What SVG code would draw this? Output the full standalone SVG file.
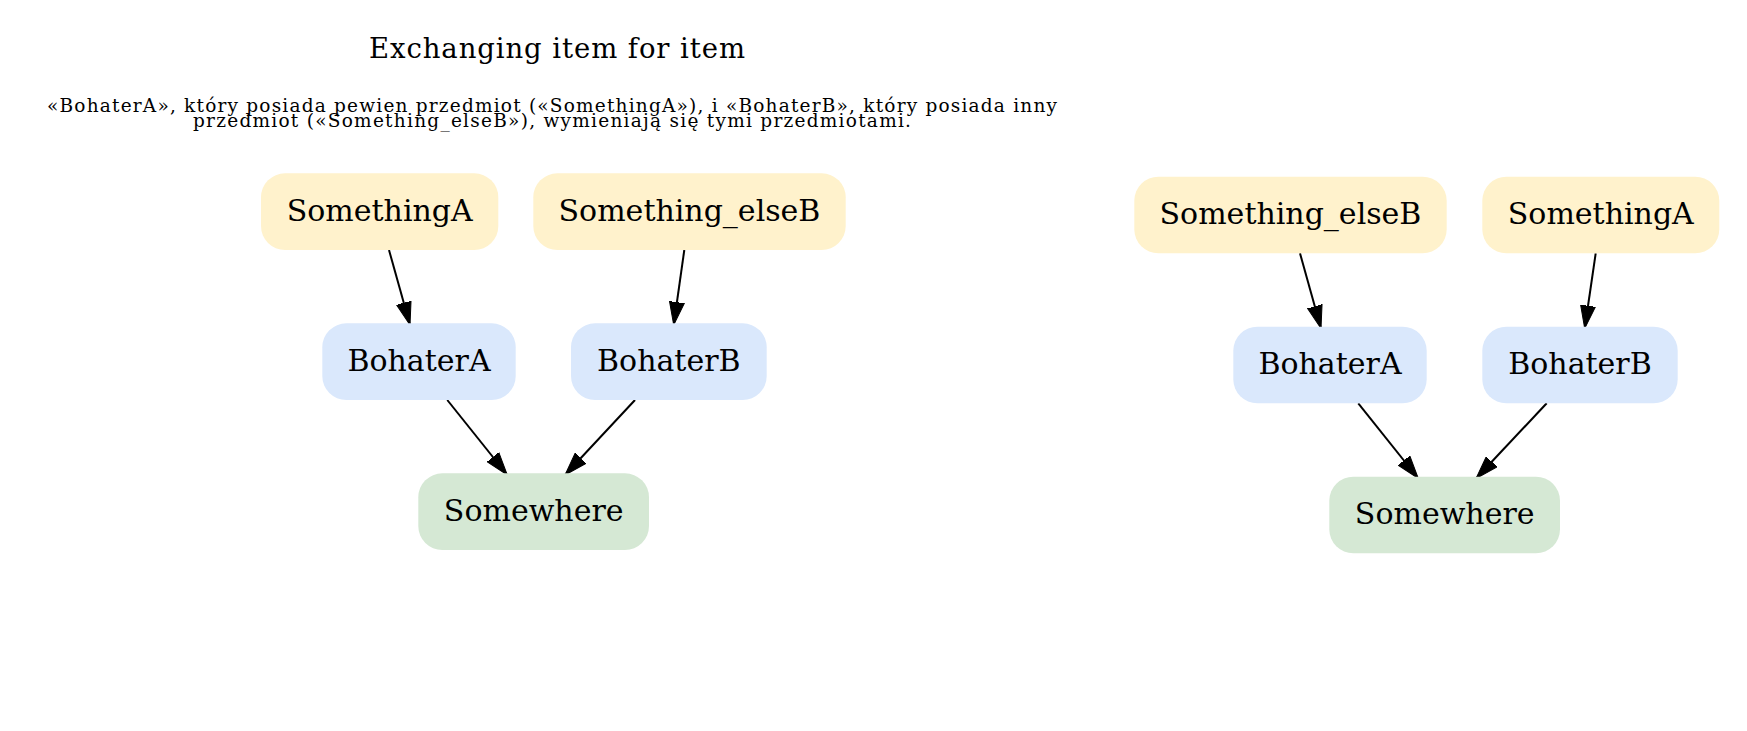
<svg xmlns="http://www.w3.org/2000/svg" width="1747" height="731" viewBox="0 0 1747 731">
<style>
text { font-family: "DejaVu Serif", "Liberation Serif", serif; fill: #000; }
.lbl { font-size: 30px; text-anchor: middle; }
.title { font-size: 27.5px; text-anchor: middle; }
.sub { font-size: 18.5px; text-anchor: middle; }
.item rect { fill: #fff2cc; }
.hero rect { fill: #dae8fc; }
.place rect { fill: #d5e8d4; }
.edge { stroke: #000; stroke-width: 2; fill: none; marker-end: url(#arr); }
</style>
<defs>
<marker id="arr" markerUnits="userSpaceOnUse" markerWidth="24" markerHeight="16" refX="23" refY="8" orient="auto" viewBox="0 0 24 16">
<path d="M0,0.5 L23,8 L0,15.5 z" fill="#000" stroke="#000" stroke-width="1"/>
</marker>
</defs>
<rect width="1747" height="731" fill="#fff"/>
<g id="title">
<text class="title" x="557" y="57.5" textLength="376" lengthAdjust="spacing">Exchanging item for item</text>
<text class="sub" x="552" y="112" textLength="1010" lengthAdjust="spacing">«BohaterA», który posiada pewien przedmiot («SomethingA»), i «BohaterB», który posiada inny</text>
<text class="sub" x="552" y="127" textLength="718" lengthAdjust="spacing">przedmiot («Something_elseB»), wymieniają się tymi przedmiotami.</text>
</g>
<g id="edges">
<line class="edge" x1="389" y1="250" x2="410" y2="325"/>
<line class="edge" x1="684.3" y1="250" x2="673.7" y2="325"/>
<line class="edge" x1="447.3" y1="400" x2="507.3" y2="475"/>
<line class="edge" x1="635" y1="400" x2="565" y2="475"/>
<line class="edge" x1="1300" y1="253.3" x2="1321" y2="328.5"/>
<line class="edge" x1="1595.7" y1="253.3" x2="1584.7" y2="328.5"/>
<line class="edge" x1="1358.3" y1="403.3" x2="1418.3" y2="478.5"/>
<line class="edge" x1="1546.7" y1="403.3" x2="1476" y2="478.5"/>
</g>
<g id="L_SomethingA" class="item"><rect x="261" y="173.3" width="237.3" height="76.7" rx="24"/><text class="lbl" x="379.7" y="220.5">SomethingA</text></g>
<g id="L_Something_elseB" class="item"><rect x="533.3" y="173.3" width="312.4" height="76.7" rx="24"/><text class="lbl" x="689.5" y="220.5">Something_elseB</text></g>
<g id="L_BohaterA" class="hero"><rect x="322.3" y="323.3" width="193.4" height="76.7" rx="24"/><text class="lbl" x="419" y="370.5">BohaterA</text></g>
<g id="L_BohaterB" class="hero"><rect x="571" y="323.3" width="195.7" height="76.7" rx="24"/><text class="lbl" x="668.8" y="370.5">BohaterB</text></g>
<g id="L_Somewhere" class="place"><rect x="418.3" y="473.3" width="230.7" height="76.7" rx="24"/><text class="lbl" x="533.7" y="520.5">Somewhere</text></g>
<g id="R_Something_elseB" class="item"><rect x="1134.3" y="176.7" width="312.4" height="76.6" rx="24"/><text class="lbl" x="1290.5" y="223.8">Something_elseB</text></g>
<g id="R_SomethingA" class="item"><rect x="1482.3" y="176.7" width="237" height="76.6" rx="24"/><text class="lbl" x="1600.8" y="223.8">SomethingA</text></g>
<g id="R_BohaterA" class="hero"><rect x="1233.3" y="326.7" width="193.4" height="76.6" rx="24"/><text class="lbl" x="1330" y="373.8">BohaterA</text></g>
<g id="R_BohaterB" class="hero"><rect x="1482.3" y="326.7" width="195.4" height="76.6" rx="24"/><text class="lbl" x="1580" y="373.8">BohaterB</text></g>
<g id="R_Somewhere" class="place"><rect x="1329.3" y="476.7" width="230.7" height="76.6" rx="24"/><text class="lbl" x="1444.7" y="523.8">Somewhere</text></g>
</svg>
